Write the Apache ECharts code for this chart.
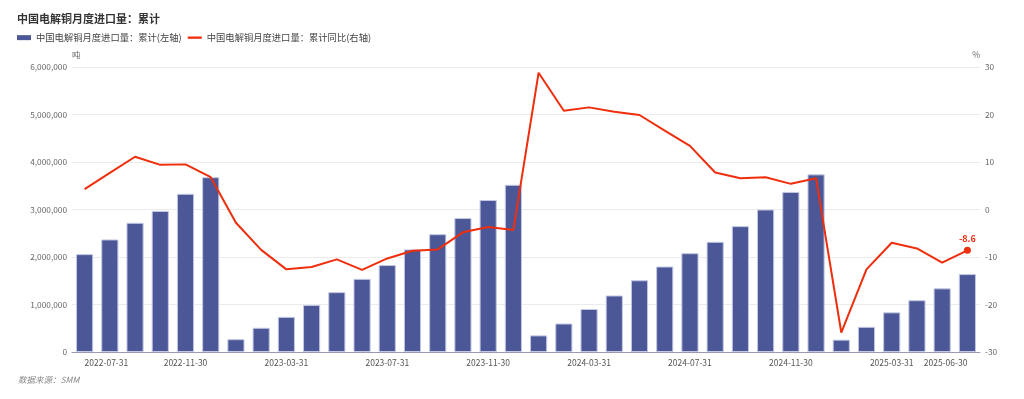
<!DOCTYPE html>
<html>
<head>
<meta charset="utf-8">
<style>
  html, body { margin: 0; padding: 0; background: #fff; }
  #chart { width: 1024px; height: 399px; }
</style>
<script src="https://cdn.jsdelivr.net/npm/echarts@6/dist/echarts.min.js"></script>
</head>
<body>
<div id="chart"></div>
<script>
  // 月份（月末日期）
  const dates = [
    '2022-07-31', '2022-08-31', '2022-09-30', '2022-10-31', '2022-11-30', '2022-12-31',
    '2023-01-31', '2023-02-28', '2023-03-31', '2023-04-30', '2023-05-31', '2023-06-30',
    '2023-07-31', '2023-08-31', '2023-09-30', '2023-10-31', '2023-11-30', '2023-12-31',
    '2024-01-31', '2024-02-29', '2024-03-31', '2024-04-30', '2024-05-31', '2024-06-30',
    '2024-07-31', '2024-08-31', '2024-09-30', '2024-10-31', '2024-11-30', '2024-12-31',
    '2025-01-31', '2025-02-28', '2025-03-31', '2025-04-30', '2025-05-31', '2025-06-30',
  ]

  // 累计进口量（吨）
  const importTotal = [
    2060000, 2370000, 2720000, 2970000, 3330000, 3680000,
    270000, 510000, 740000, 990000, 1260000, 1540000,
    1830000, 2160000, 2480000, 2820000, 3200000, 3520000,
    350000, 600000, 905000, 1190000, 1510000, 1800000,
    2080000, 2320000, 2650000, 3000000, 3370000, 3740000,
    260000, 530000, 835000, 1090000, 1340000, 1640000,
  ]

  // 累计同比（%）
  const yoy = [
    4.3, 7.7, 11.1, 9.4, 9.5, 6.8,
    -2.8, -8.5, -12.6, -12.1, -10.5, -12.7,
    -10.3, -8.7, -8.4, -4.8, -3.7, -4.3,
    28.8, 20.8, 21.5, 20.6, 19.9, 16.6,
    13.4, 7.8, 6.6, 6.8, 5.4, 6.6,
    -25.9, -12.6, -7.0, -8.2, -11.2, -8.6,
  ]

  const barName = '中国电解铜月度进口量：累计(左轴)'
  const lineName = '中国电解铜月度进口量：累计同比(右轴)'
  const barColor = '#4b5796'
  const lineColor = '#ee2e0c'
  const last = yoy.length - 1
  const font = '"Noto Sans CJK SC", sans-serif'

  const chart = echarts.init(document.getElementById('chart'))

  chart.setOption({
    animation: false,
    textStyle: {
      fontFamily: font,
    },
    title: {
      text: '中国电解铜月度进口量：累计',
      left: 12,
      top: 8,
      textStyle: {
        fontSize: 11,
        fontWeight: 'bold',
        color: '#333',
      },
    },
    legend: {
      left: 12,
      top: 28,
      itemGap: 6,
      itemWidth: 14,
      itemHeight: 5,
      textStyle: {
        fontSize: 9.3,
        color: '#444',
      },
      data: [
        { name: barName, icon: 'rect', itemStyle: { borderWidth: 0 } },
        { name: lineName, icon: 'path://M0,0 H30 V5 H0 Z' },
      ],
    },
    graphic: [
      {
        type: 'text',
        left: 18,
        top: 376,
        style: {
          text: '数据来源：SMM',
          fontSize: 8.5,
          fontStyle: 'italic',
          fill: '#888',
          fontFamily: font,
        },
      },
    ],
    grid: {
      left: 72,
      right: 44,
      top: 67,
      bottom: 47,
    },
    xAxis: {
      type: 'category',
      data: dates,
      axisTick: {
        show: false,
      },
      axisLine: {
        lineStyle: {
          color: '#9a9ab0',
        },
      },
      axisLabel: {
        color: '#555',
        fontSize: 8.5,
        margin: 7,
        hideOverlap: false,
        showMinLabel: true,
        showMaxLabel: true,
        alignMinLabel: 'left',
        alignMaxLabel: 'right',
        interval: (i) => i % 4 === 0 || i === dates.length - 1,
      },
    },
    yAxis: [
      {
        type: 'value',
        name: '吨',
        nameGap: 8,
        nameTextStyle: {
          color: '#666',
          fontSize: 8.5,
          align: 'left',
        },
        min: 0,
        max: 6000000,
        interval: 1000000,
        axisLine: {
          show: false,
        },
        axisTick: {
          show: false,
        },
        axisLabel: {
          color: '#666',
          fontSize: 8.3,
          margin: 5,
          formatter: (v) => v.toLocaleString('en-US'),
        },
        splitLine: {
          lineStyle: {
            color: '#ebebeb',
          },
        },
      },
      {
        type: 'value',
        name: '%',
        nameGap: 8,
        nameTextStyle: {
          color: '#666',
          fontSize: 8.5,
          align: 'right',
        },
        min: -30,
        max: 30,
        interval: 10,
        axisLine: {
          show: false,
        },
        axisTick: {
          show: false,
        },
        axisLabel: {
          color: '#666',
          fontSize: 8.3,
          margin: 5,
        },
        splitLine: {
          show: false,
        },
      },
    ],
    series: [
      {
        name: barName,
        type: 'bar',
        yAxisIndex: 0,
        barWidth: '68%',
        itemStyle: {
          color: barColor,
          borderColor: '#c3c8e4',
          borderWidth: 1,
        },
        data: importTotal,
      },
      {
        name: lineName,
        type: 'line',
        yAxisIndex: 1,
        symbol: 'none',
        lineStyle: {
          color: lineColor,
          width: 2,
        },
        itemStyle: {
          color: lineColor,
        },
        data: yoy.map((v, i) =>
          i === last
            ? {
                value: v,
                symbol: 'circle',
                symbolSize: 7,
                label: {
                  show: true,
                  position: 'top',
                  distance: 4,
                  color: lineColor,
                  fontSize: 9,
                  fontWeight: 'bold',
                },
              }
            : v
        ),
      },
    ],
  })
</script>
</body>
</html>
